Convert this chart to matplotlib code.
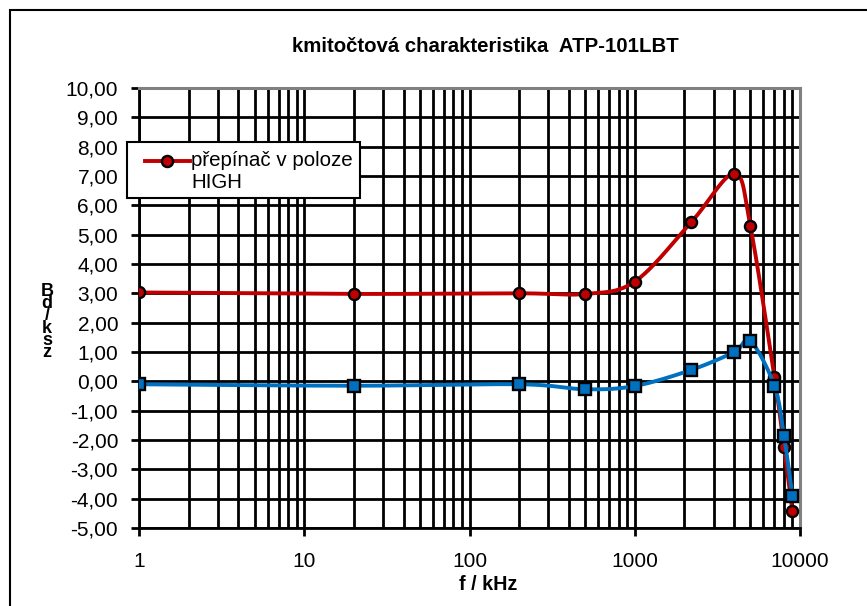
import numpy as np
import matplotlib
matplotlib.use("Agg")
import matplotlib.pyplot as plt
from matplotlib.ticker import FixedLocator, FuncFormatter, LogLocator, NullFormatter
from matplotlib.lines import Line2D
from matplotlib.patches import Rectangle

plt.rcParams['font.family'] = ['Liberation Sans', 'DejaVu Sans']

title = "kmitočtová charakteristika  ATP-101LBT"
xlabel = "f / kHz"
ylabel_chars = ["B", "d", "/", "k", "s", "z"]
legend_label = ["přepínač v poloze", "HIGH"]

freq = [1, 20, 200, 500, 1000, 2200, 4000, 5000, 7000, 8000, 9000]
high = [3.03, 2.98, 3.0, 2.98, 3.4, 5.43, 7.08, 5.31, 0.15, -2.23, -4.42]
other = [-0.1, -0.15, -0.1, -0.27, -0.16, 0.39, 1.0, 1.38, -0.15, -1.86, -3.91]
xticks = [1, 10, 100, 1000, 10000]
xticklabels = ["1", "10", "100", "1000", "10000"]
yticks = list(range(-5, 11))

RED = "#C00000"
BLUE = "#0070C0"


def smooth(xs, ys, n=40):
    # Excel-style smoothed line: cubic Bezier with Catmull-Rom control points
    P = np.column_stack([np.log10(xs), np.asarray(ys, float)])
    out = []
    for i in range(len(P) - 1):
        p0, p3 = P[i], P[i + 1]
        pm = P[i - 1] if i > 0 else P[i]
        pp = P[i + 2] if i + 2 < len(P) else P[i + 1]
        c1 = p0 + (p3 - pm) / 6.0
        c2 = p3 - (pp - p0) / 6.0
        t = np.linspace(0, 1, n)[:, None]
        B = (1 - t) ** 3 * p0 + 3 * (1 - t) ** 2 * t * c1 + 3 * (1 - t) * t ** 2 * c2 + t ** 3 * p3
        out.append(B if i == 0 else B[1:])
    B = np.vstack(out)
    return 10 ** B[:, 0], B[:, 1]


W, H = 867, 606
fig = plt.figure(figsize=(W / 100, H / 100), dpi=100)


def fx(px):
    return px / W


def fy(py):
    return 1 - py / H


# outer chart frame (extends past right/bottom edge)
fig.patches.append(Rectangle((fx(10), -0.1), 1.2, fy(10) + 0.1, transform=fig.transFigure,
                             fill=False, edgecolor="black", linewidth=1.5, zorder=0))

ax = fig.add_axes([fx(139), fy(528), (800 - 139) / W, (528 - 88) / H])
ax.set_xscale("log")
ax.set_xlim(1, 10000)
ax.set_ylim(-5, 10)

# grid
ax.xaxis.set_major_locator(FixedLocator(xticks))
ax.xaxis.set_minor_locator(LogLocator(base=10, subs=np.arange(2, 10), numticks=20))
ax.xaxis.set_minor_formatter(NullFormatter())
ax.set_xticklabels(xticklabels)
ax.yaxis.set_major_locator(FixedLocator(yticks))
ax.yaxis.set_major_formatter(FuncFormatter(lambda v, p: f"{v:.2f}".replace(".", ",")))
ax.grid(which="major", axis="both", color="black", linewidth=2.0)
ax.grid(which="minor", axis="x", color="black", linewidth=2.0)
ax.set_axisbelow(True)

for s in ["top", "right"]:
    ax.spines[s].set_color("#808080")
    ax.spines[s].set_linewidth(2.2)
for s in ["left", "bottom"]:
    ax.spines[s].set_color("black")
    ax.spines[s].set_linewidth(2.0)

ax.tick_params(axis="both", which="major", direction="out", length=6, width=2.0, labelsize=15)
ax.tick_params(axis="x", which="major", pad=11)
ax.tick_params(axis="y", which="major", pad=9)
ax.tick_params(axis="x", which="minor", length=0)

# series
sx, sy = smooth(freq, high)
ax.plot(sx, sy, color=RED, linewidth=2.8, zorder=3, solid_capstyle="round")
ax.plot(freq, high, linestyle="none", marker="o", markersize=8, markerfacecolor=RED,
        markeredgecolor="black", markeredgewidth=1.7, zorder=4)
bx, by = smooth(freq, other)
ax.plot(bx, by, color=BLUE, linewidth=2.8, zorder=5, solid_capstyle="round")
ax.plot(freq, other, linestyle="none", marker="s", markersize=8, markerfacecolor=BLUE,
        markeredgecolor="black", markeredgewidth=1.7, zorder=6)

# labels
fig.text(fx(485), fy(46), title, ha="center", va="center", fontsize=14.7, fontweight="bold")
fig.text(fx(488), fy(585), xlabel, ha="center", va="center", fontsize=14.2, fontweight="bold")
fig.text(fx(47), fy(322), "\n".join(ylabel_chars), ha="center", va="center", fontsize=13,
         fontweight="bold", linespacing=0.62)

# legend (drawn as a box with a sample line and text)
fig.patches.append(Rectangle((fx(127), fy(198)), (360 - 127) / W, (198 - 142) / H,
                             transform=fig.transFigure, facecolor="white", edgecolor="black",
                             linewidth=1.5, zorder=10))
fig.lines.append(Line2D([fx(145), fx(190)], [fy(161), fy(161)], transform=fig.transFigure,
                        color=RED, linewidth=2.8, zorder=11))
fig.lines.append(Line2D([fx(167)], [fy(161)], transform=fig.transFigure, linestyle="none",
                        marker="o", markersize=8, markerfacecolor=RED, markeredgecolor="black",
                        markeredgewidth=1.7, zorder=12))
fig.text(fx(191), fy(161), legend_label[0], ha="left", va="center", fontsize=14.8, zorder=12)
fig.text(fx(191), fy(183), legend_label[1], ha="left", va="center", fontsize=14.8, zorder=12)

fig.savefig("out.png", dpi=100)
